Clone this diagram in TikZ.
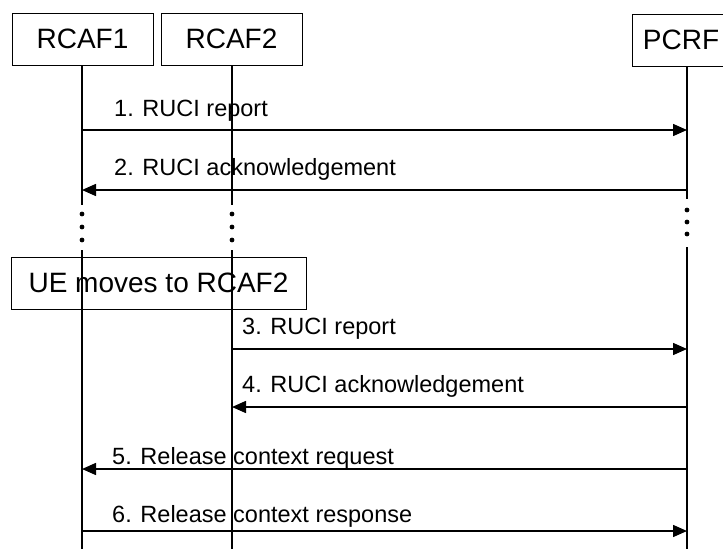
\documentclass[tikz,border=0pt]{standalone}
\usepackage{fontspec}
\setmainfont{Liberation Sans}
\usetikzlibrary{arrows.meta}

\begin{document}
\begin{tikzpicture}[x=1pt, y=-1pt,
                    every node/.style={inner sep=0pt, font=\fontsize{23.5}{26}\selectfont},
                    entity/.style={draw, line width=0.8pt, minimum height=52pt, font=\fontsize{28}{30}\selectfont},
                    msg/.style={line width=1.5pt, -{Triangle[length=14pt, width=12pt]}},
                    life/.style={line width=1.1pt},
                    dot/.style={circle, fill, minimum size=4.8pt}]
                    \useasboundingbox (0,0) rectangle (723,549);

                    \node[entity, minimum width=141pt] (rcaf1) at (82.5,39) {RCAF1};
                    \node[entity, minimum width=141pt] (rcaf2) at (231.5,39) {RCAF2};
                    \node[entity, minimum width=98pt]  (pcrf)  at (681,40) {PCRF};

                    \coordinate (l1) at (82,65);
                    \coordinate (l2) at (232,65);
                    \coordinate (l3) at (687,66);

                    % lifelines
                    \draw[life] (l1) -- (l1 |- 0,205);
                    \draw[life] (l1 |- 0,250) -- (l1 |- 0,549);
                    \draw[life] (l2) -- (l2 |- 0,205);
                    \draw[life] (l2 |- 0,250) -- (l2 |- 0,549);
                    \draw[life] (l3) -- (l3 |- 0,199);
                    \draw[life] (l3 |- 0,247) -- (l3 |- 0,549);

                    \node[dot] (d1a) at (l1 |- 0,214) {};
                    \node[dot] (d1b) at (l1 |- 0,227) {};
                    \node[dot] (d1c) at (l1 |- 0,240) {};
                    \node[dot] (d2a) at (l2 |- 0,214) {};
                    \node[dot] (d2b) at (l2 |- 0,227) {};
                    \node[dot] (d2c) at (l2 |- 0,240) {};
                    \node[dot] (d3a) at (l3 |- 0,210) {};
                    \node[dot] (d3b) at (l3 |- 0,222) {};
                    \node[dot] (d3c) at (l3 |- 0,234) {};

                    \node[entity, minimum width=295pt] (move) at (158.5,283) {UE moves to RCAF2};

                    % messages
                    \draw[msg] (l1 |- 0,130) -- (l3 |- 0,130);
                    \draw[msg] (l3 |- 0,190) -- (l1 |- 0,190);
                    \draw[msg] (l2 |- 0,349) -- (l3 |- 0,349);
                    \draw[msg] (l3 |- 0,407) -- (l2 |- 0,407);
                    \draw[msg] (l3 |- 0,469) -- (l1 |- 0,469);
                    \draw[msg] (l1 |- 0,531) -- (l3 |- 0,531);

                    \node[anchor=base west] (t1) at (114,116) {1. RUCI report};
                    \node[anchor=base west] (t2) at (114,175) {2. RUCI acknowledgement};
                    \node[anchor=base west] (t3) at (242,334) {3. RUCI report};
                    \node[anchor=base west] (t4) at (242,392) {4. RUCI acknowledgement};
                    \node[anchor=base west] (t5) at (112,464) {5. Release context request};
                    \node[anchor=base west] (t6) at (112,522) {6. Release context response};
                \end{tikzpicture}
\end{document}
